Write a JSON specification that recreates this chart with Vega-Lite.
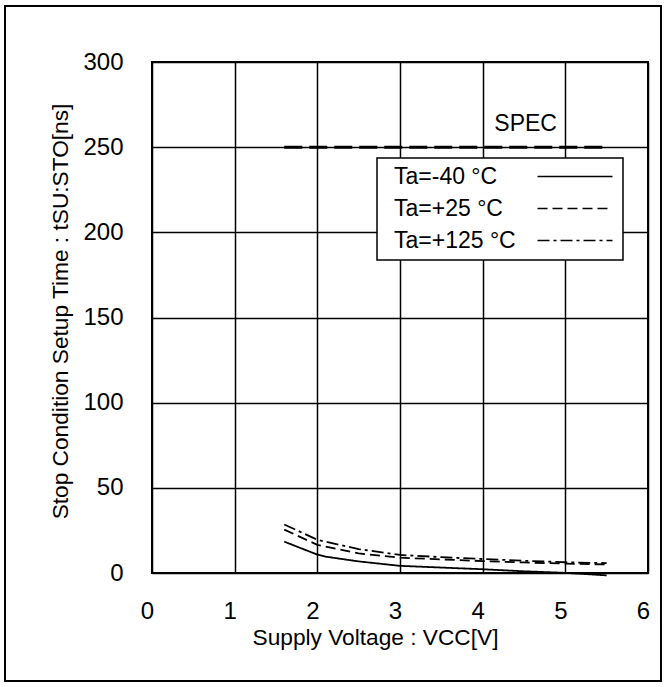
{
  "$schema": "https://vega.github.io/schema/vega-lite/v6.json",
  "width": 496,
  "height": 511,
  "autosize": {"type": "none"},
  "padding": {"left": 152, "top": 62, "right": 18, "bottom": 114},
  "background": "white",
  "config": {
    "font": "Liberation Sans",
    "view": {"stroke": "black", "strokeWidth": 2},
    "axis": {
      "domain": false,
      "ticks": false,
      "grid": true,
      "gridColor": "black",
      "gridWidth": 1.5,
      "gridOpacity": 1,
      "labelFont": "Liberation Sans",
      "labelFontSize": 24,
      "labelColor": "black",
      "labelFlush": false,
      "titleFont": "Liberation Sans",
      "titleFontSize": 22.7,
      "titleFontWeight": "normal",
      "titleColor": "black"
    },
    "legend": {"strokeWidth": 1.5}
  },
  "datasets": {
    "curves": [
      {"v": 1.6, "t": 18.4, "series": "Ta=-40 °C"},
      {"v": 2.0, "t": 10.8, "series": "Ta=-40 °C"},
      {"v": 2.1, "t": 9.6, "series": "Ta=-40 °C"},
      {"v": 2.5, "t": 6.8, "series": "Ta=-40 °C"},
      {"v": 3.0, "t": 4.2, "series": "Ta=-40 °C"},
      {"v": 3.5, "t": 3.2, "series": "Ta=-40 °C"},
      {"v": 4.0, "t": 2.2, "series": "Ta=-40 °C"},
      {"v": 4.5, "t": 1.0, "series": "Ta=-40 °C"},
      {"v": 5.0, "t": 0.1, "series": "Ta=-40 °C"},
      {"v": 5.5, "t": -1.4, "series": "Ta=-40 °C"},
      {"v": 1.6, "t": 25.5, "series": "Ta=+25 °C"},
      {"v": 2.0, "t": 16.5, "series": "Ta=+25 °C"},
      {"v": 2.5, "t": 11.5, "series": "Ta=+25 °C"},
      {"v": 3.0, "t": 9.0, "series": "Ta=+25 °C"},
      {"v": 3.5, "t": 8.0, "series": "Ta=+25 °C"},
      {"v": 4.0, "t": 7.0, "series": "Ta=+25 °C"},
      {"v": 4.5, "t": 6.2, "series": "Ta=+25 °C"},
      {"v": 5.0, "t": 5.5, "series": "Ta=+25 °C"},
      {"v": 5.5, "t": 5.0, "series": "Ta=+25 °C"},
      {"v": 1.6, "t": 28.5, "series": "Ta=+125 °C"},
      {"v": 2.0, "t": 19.5, "series": "Ta=+125 °C"},
      {"v": 2.5, "t": 14.0, "series": "Ta=+125 °C"},
      {"v": 3.0, "t": 10.6, "series": "Ta=+125 °C"},
      {"v": 3.5, "t": 9.3, "series": "Ta=+125 °C"},
      {"v": 4.0, "t": 8.2, "series": "Ta=+125 °C"},
      {"v": 4.5, "t": 7.2, "series": "Ta=+125 °C"},
      {"v": 5.0, "t": 6.3, "series": "Ta=+125 °C"},
      {"v": 5.5, "t": 5.8, "series": "Ta=+125 °C"}
    ],
    "spec": [{"v1": 1.6, "v2": 5.5, "t": 250, "label": "SPEC", "lv": 4.52, "lt": 263.5}]
  },
  "layer": [
    {
      "data": {"values": [{}]},
      "mark": {"type": "rect", "fill": null, "stroke": "black", "strokeWidth": 2, "clip": false},
      "encoding": {
        "x": {"datum": -1.778, "type": "quantitative"},
        "x2": {"datum": 6.157},
        "y": {"datum": 332.9, "type": "quantitative"},
        "y2": {"datum": -63.4}
      }
    },
    {
      "data": {"name": "curves"},
      "mark": {"type": "line", "color": "black", "strokeWidth": 1.8, "clip": false},
      "encoding": {
        "x": {
          "field": "v",
          "type": "quantitative",
          "scale": {"domain": [0, 6]},
          "axis": {
            "values": [0, 1, 2, 3, 4, 5, 6],
            "format": "d",
            "title": "Supply Voltage : VCC[V]",
            "labelPadding": 26,
            "labelOffset": -5,
            "titlePadding": 3,
            "titleX": 223,
            "titleAnchor": "start",
            "titleAlign": "center"
          }
        },
        "y": {
          "field": "t",
          "type": "quantitative",
          "scale": {"domain": [0, 300]},
          "axis": {
            "values": [0, 50, 100, 150, 200, 250, 300],
            "title": "Stop Condition Setup Time : tSU:STO[ns]",
            "labelPadding": 29,
            "titlePadding": 10,
            "titleY": 249,
            "titleAnchor": "start",
            "titleAlign": "center"
          }
        },
        "strokeDash": {
          "field": "series",
          "type": "nominal",
          "scale": {
            "domain": ["Ta=-40 °C", "Ta=+25 °C", "Ta=+125 °C"],
            "range": [[1, 0], [10, 5], [12, 4, 3, 4]]
          },
          "legend": {
            "title": null,
            "orient": "none",
            "legendX": 225,
            "legendY": 96,
            "fillColor": "white",
            "strokeColor": "black",
            "padding": 7,
            "symbolType": "M28.4,0H43.4",
            "symbolSize": 100,
            "symbolStrokeWidth": 1.6,
            "symbolStrokeColor": "black",
            "symbolOffset": 0,
            "labelOffset": -13,
            "rowPadding": 8,
            "labelFont": "Liberation Sans",
            "labelFontSize": 23,
            "labelColor": "black",
            "labelLimit": 300
          }
        }
      }
    },
    {
      "data": {"name": "spec"},
      "mark": {"type": "rule", "color": "black", "strokeWidth": 3, "strokeDash": [18, 7]},
      "encoding": {
        "x": {"field": "v1", "type": "quantitative"},
        "x2": {"field": "v2"},
        "y": {"field": "t", "type": "quantitative"}
      }
    },
    {
      "data": {"name": "spec"},
      "mark": {"type": "text", "fontSize": 23, "font": "Liberation Sans", "color": "black", "align": "center", "baseline": "middle"},
      "encoding": {
        "x": {"field": "lv", "type": "quantitative"},
        "y": {"field": "lt", "type": "quantitative"},
        "text": {"field": "label"}
      }
    }
  ]
}
